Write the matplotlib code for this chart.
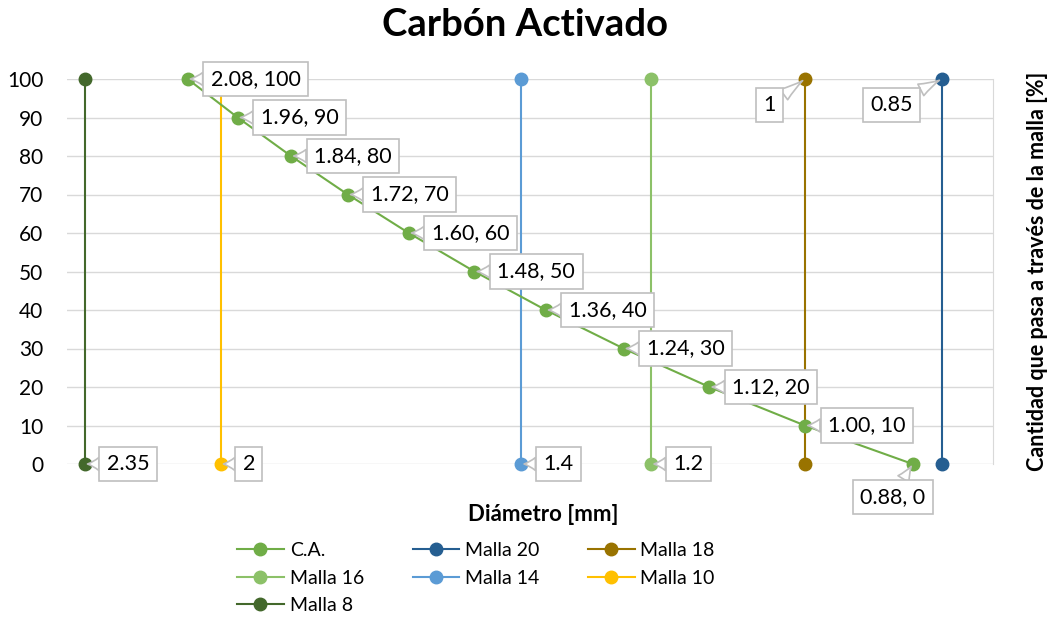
import matplotlib.pyplot as plt
from matplotlib.ticker import NullLocator, MultipleLocator

plt.rcParams['font.family'] = ['Lato', 'DejaVu Sans']

# curva granulométrica del carbón activado
ca_x = [2.08, 1.96, 1.84, 1.72, 1.60, 1.48, 1.36, 1.24, 1.12, 1.00, 0.88]
ca_y = [100, 90, 80, 70, 60, 50, 40, 30, 20, 10, 0]

# tamices: abertura en mm
mallas = ['Malla 20', 'Malla 18', 'Malla 16', 'Malla 14', 'Malla 10', 'Malla 8']
aberturas = [0.85, 1, 1.2, 1.4, 2, 2.35]
malla_y = [0, 100]

colores = {
    'C.A.': '#70AD47',
    'Malla 20': '#255E91',
    'Malla 18': '#997300',
    'Malla 16': '#8CC168',
    'Malla 14': '#5B9BD5',
    'Malla 10': '#FFC000',
    'Malla 8': '#43682B',
}

fig = plt.figure(figsize=(10.5, 6.21), dpi=100)
ax = fig.add_axes([67 / 1050, 1 - 464 / 621, 926 / 1050, 385 / 621])

fs = 15.5
caja = dict(boxstyle='square,pad=0.34', fc='white', ec='#BFBFBF', lw=1.2)
flecha = dict(arrowstyle='wedge,tail_width=0.6,shrink_factor=0.4', fc='white',
              ec='#BFBFBF', lw=1.2, shrinkA=0, shrinkB=2)

handles = {}
h, = ax.plot(ca_x, ca_y, '-o', color=colores['C.A.'], lw=1.5, ms=9, zorder=3,
             clip_on=False)
handles['C.A.'] = h
for x, y in zip(ca_x, ca_y):
    if y == 0:
        off, ha = (-20, -33), 'center'
    else:
        off, ha = (23, 0), 'left'
    ax.annotate(f'{x:.2f}, {y}', (x, y), xytext=off, textcoords='offset pixels',
                ha=ha, va='center', fontsize=fs, bbox=caja, arrowprops=flecha,
                zorder=5)

for nombre, x in zip(mallas, aberturas):
    h, = ax.plot([x, x], malla_y, '-o', color=colores[nombre], lw=1.5, ms=9,
                 zorder=2, clip_on=False)
    handles[nombre] = h
    if x < 1.1:
        ax.annotate(f'{x:g}', (x, 100), xytext=(-29, -26), textcoords='offset pixels',
                    ha='right', va='center', fontsize=fs, bbox=caja, arrowprops=flecha,
                    zorder=5)
    else:
        ax.annotate(f'{x:g}', (x, 0), xytext=(22, 0), textcoords='offset pixels',
                    ha='left', va='center', fontsize=fs, bbox=caja, arrowprops=flecha,
                    zorder=5)

ax.set_xscale('log')
ax.set_xlim(2.40, 0.80)
ax.set_ylim(0, 100)
ax.xaxis.set_major_locator(NullLocator())
ax.xaxis.set_minor_locator(NullLocator())
ax.yaxis.set_major_locator(MultipleLocator(10))
ax.tick_params(axis='y', length=0, labelsize=15, pad=17)
ax.grid(axis='y', color='#D9D9D9', lw=1)
for lado in ['left', 'top', 'bottom']:
    ax.spines[lado].set_visible(False)
ax.spines['right'].set_color('#D9D9D9')

fig.text(0.5, 1 - 25 / 621, 'Carbón Activado', fontsize=27.5, fontweight='bold',
         ha='center', va='center')
ax.set_xlabel('Diámetro [mm]', fontsize=16, fontweight='bold')
ax.xaxis.set_label_coords(0.514, -0.105)
ax.yaxis.set_label_position('right')
ax.set_ylabel('Cantidad que pasa a través de la malla [%]', fontsize=15.5,
              fontweight='bold')
ax.yaxis.set_label_coords(1.037, 0.5)

orden = ['C.A.', 'Malla 16', 'Malla 8', 'Malla 20', 'Malla 14', 'Malla 18', 'Malla 10']
fig.legend([handles[n] for n in orden], orden, ncol=3, loc='center',
           bbox_to_anchor=(476 / 1050, 1 - 578 / 621), frameon=False, fontsize=14,
           handlelength=2.4, columnspacing=2.5, labelspacing=0.55, handletextpad=0.3)

fig.savefig('out.png', dpi=100)
